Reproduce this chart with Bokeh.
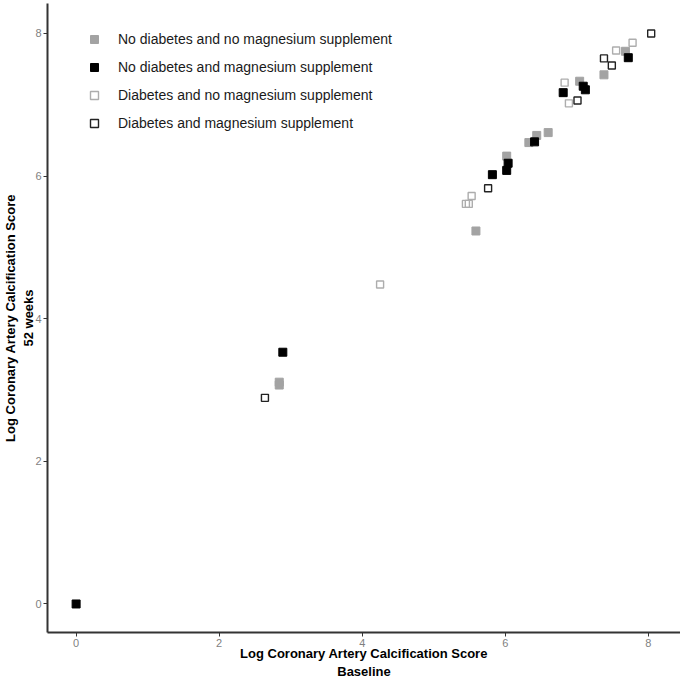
from bokeh.plotting import figure
from bokeh.models import Range1d, Legend, LegendItem, FixedTicker
from bokeh.embed import file_html
from bokeh.resources import INLINE

# No diabetes and no magnesium supplement (grey filled)
nd_nm_x = [7.68, 7.38, 7.04, 6.60, 6.44, 6.33, 6.02, 5.59, 2.84, 2.84]
nd_nm_y = [7.75, 7.42, 7.33, 6.61, 6.57, 6.47, 6.28, 5.23, 3.11, 3.07]
# No diabetes and magnesium supplement (black filled)
nd_m_x = [7.72, 7.09, 7.12, 6.81, 6.41, 6.04, 6.02, 5.82, 2.89, 0.0]
nd_m_y = [7.66, 7.26, 7.21, 7.17, 6.48, 6.18, 6.08, 6.02, 3.53, 0.0]
# Diabetes and no magnesium supplement (light open)
d_nm_x = [7.78, 7.55, 6.83, 6.89, 5.53, 5.45, 5.49, 4.25]
d_nm_y = [7.87, 7.76, 7.31, 7.02, 5.72, 5.61, 5.61, 4.48]
# Diabetes and magnesium supplement (dark open)
d_m_x = [8.04, 7.38, 7.49, 7.01, 5.76, 2.64]
d_m_y = [8.00, 7.65, 7.55, 7.06, 5.83, 2.89]

labels = ["No diabetes and no magnesium supplement",
          "No diabetes and magnesium supplement",
          "Diabetes and no magnesium supplement",
          "Diabetes and magnesium supplement"]
ticks = [0, 2, 4, 6, 8]

p = figure(width=680, height=681, output_backend="svg", toolbar_location=None,
           x_range=Range1d(-0.40, 8.45), y_range=Range1d(-0.40, 8.42),
           min_border_top=3, min_border_right=0, min_border_left=0, min_border_bottom=0)
p.outline_line_color = None
p.background_fill_color = "white"
p.xgrid.visible = False
p.ygrid.visible = False

r1 = p.scatter(nd_nm_x, nd_nm_y, marker="square", size=8, fill_color="#a3a3a3", line_color="#a3a3a3")
r2 = p.scatter(nd_m_x, nd_m_y, marker="square", size=8, fill_color="black", line_color="black")
r3 = p.scatter(d_nm_x, d_nm_y, marker="square", size=7, fill_color="white", fill_alpha=0,
               line_color="#adadad", line_width=1.4)
r4 = p.scatter(d_m_x, d_m_y, marker="square", size=7, fill_color="white", fill_alpha=0,
               line_color="#222222", line_width=1.4)

for ax in (p.xaxis[0], p.yaxis[0]):
    ax.ticker = FixedTicker(ticks=ticks)
    ax.minor_tick_line_color = None
    ax.major_tick_in = 0
    ax.major_tick_out = 4
    ax.major_tick_line_color = "#333333"
    ax.axis_line_color = "#333333"
    ax.axis_line_width = 2
    ax.major_label_text_color = "#7f7f7f"
    ax.major_label_text_font = "Liberation Sans"
    ax.major_label_text_font_size = "11px"
    ax.major_label_standoff = 2
    ax.axis_label_text_font = "Liberation Sans"
    ax.axis_label_text_font_style = "bold"
    ax.axis_label_text_font_size = "13px"
    ax.axis_label_text_color = "black"
    ax.axis_label_standoff = -4

p.xaxis[0].axis_label = "Log Coronary Artery Calcification Score\nBaseline"
p.yaxis[0].axis_label = "Log Coronary Artery Calcification Score\n52 weeks"

legend = Legend(items=[LegendItem(label=labels[0], renderers=[r1]),
                       LegendItem(label=labels[1], renderers=[r2]),
                       LegendItem(label=labels[2], renderers=[r3]),
                       LegendItem(label=labels[3], renderers=[r4])],
                location="top_left")
legend.margin = 26
legend.padding = 0
legend.glyph_width = 42
legend.glyph_height = 20
legend.label_height = 20
legend.label_standoff = 3
legend.spacing = 8
legend.border_line_color = None
legend.background_fill_alpha = 0
legend.label_text_font = "Liberation Sans"
legend.label_text_font_size = "14px"
legend.label_text_color = "#1a1a1a"
p.add_layout(legend)

open("out.html", "w").write(file_html(p, INLINE))
